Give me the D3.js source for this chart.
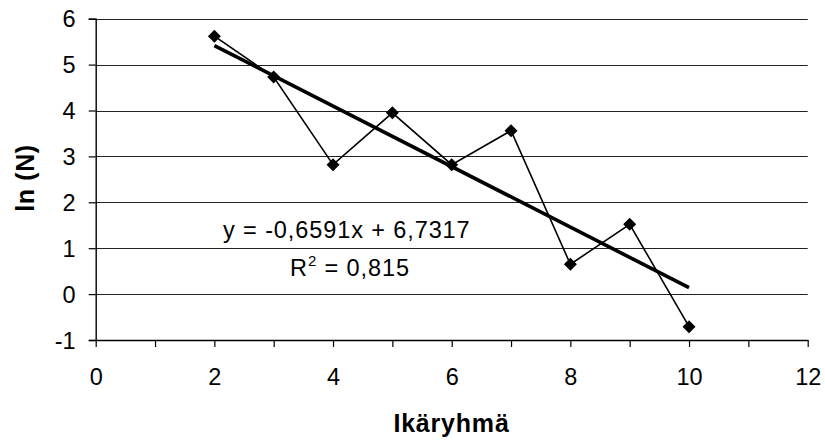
<!DOCTYPE html>
<html>
<head>
<meta charset="utf-8">
<script src="https://cdn.jsdelivr.net/npm/d3@7"></script>
<style>
  html, body { margin: 0; padding: 0; background: #fff; }
  svg { display: block; }
  text { font-family: "Liberation Sans", Arial, sans-serif; fill: #000; }
</style>
</head>
<body>
<svg id="chart" width="825" height="441"></svg>
<script>
// ---- data ----
const ageGroups = [2, 3, 4, 5, 6, 7, 8, 9, 10];
const lnN = [5.62, 4.73, 2.82, 3.95, 2.82, 3.56, 0.65, 1.52, -0.71];
const trendSlope = -0.6591;
const trendIntercept = 6.7317;
const trendRange = [2, 10];
const xTickValues = [0, 2, 4, 6, 8, 10, 12];
const xMinorTicks = [0, 1, 2, 3, 4, 5, 6, 7, 8, 9, 10, 11, 12];
const yTickValues = [-1, 0, 1, 2, 3, 4, 5, 6];
const equationText = "y = -0,6591x + 6,7317";
const r2Text = "0,815";
const xTitle = "Ikäryhmä";
const yTitle = "ln (N)";

// ---- layout ----
(function () {
const svg = d3.select("#chart");
const pLeft = 95.7, pRight = 807.7, pTop = 18.7, pBottom = 340;
const x = d3.scaleLinear().domain([0, 12]).range([pLeft, pRight]);
const y = d3.scaleLinear().domain([-1, 6]).range([pBottom, pTop]);

// gridlines
svg.append("g").selectAll("line").data(yTickValues).join("line")
  .attr("x1", pLeft).attr("x2", pRight)
  .attr("y1", d => Math.round(y(d)) + 0.5).attr("y2", d => Math.round(y(d)) + 0.5)
  .attr("stroke", "#222").attr("stroke-width", 1.2);

// y axis
const yAxis = d3.axisLeft(y).tickValues(yTickValues).tickSize(7).tickFormat(d => d);
const gy = svg.append("g").attr("transform", `translate(${pLeft},0)`).call(yAxis);
gy.select(".domain").attr("stroke", "#000").attr("stroke-width", 1.4);
gy.selectAll(".tick line").attr("stroke", "#000").attr("stroke-width", 1.2);
gy.selectAll(".tick text").attr("font-size", 23.5).attr("font-family", "Liberation Sans, Arial, sans-serif")
  .attr("x", -20).attr("dy", "0.35em").attr("fill", "#000");

// x axis minor ticks
const xAxisMinor = d3.axisBottom(x).tickValues(xMinorTicks).tickSize(7).tickFormat("");
const gxm = svg.append("g").attr("transform", `translate(0,${pBottom})`).call(xAxisMinor);
gxm.select(".domain").remove();
gxm.selectAll(".tick line").attr("stroke", "#000").attr("stroke-width", 1.2);

const xAxis = d3.axisBottom(x).tickValues(xTickValues).tickSize(0).tickFormat(d => d);
const gx = svg.append("g").attr("transform", `translate(0,${pBottom})`).call(xAxis);
gx.select(".domain").attr("stroke", "#000").attr("stroke-width", 1.4);
gx.selectAll(".tick text").attr("font-size", 23.5).attr("font-family", "Liberation Sans, Arial, sans-serif")
  .attr("dy", "0").attr("y", 45).attr("fill", "#000");

// trend line
const tx = trendRange;
svg.append("line")
  .attr("x1", x(tx[0])).attr("y1", y(trendSlope * tx[0] + trendIntercept))
  .attr("x2", x(tx[1])).attr("y2", y(trendSlope * tx[1] + trendIntercept))
  .attr("stroke", "#000").attr("stroke-width", 3.6);

// data line
const pts = ageGroups.map((a, i) => [a, lnN[i]]);
svg.append("path").datum(pts)
  .attr("d", d3.line().x(d => x(d[0])).y(d => y(d[1])))
  .attr("fill", "none").attr("stroke", "#000").attr("stroke-width", 1.6);

// markers
const s = 6.5;
svg.append("g").selectAll("path").data(pts).join("path")
  .attr("transform", d => `translate(${x(d[0])},${y(d[1])})`)
  .attr("d", `M0,${-s}L${s},0L0,${s}L${-s},0Z`)
  .attr("fill", "#000");

// equation labels
svg.append("text").attr("x", 223).attr("y", 238)
  .attr("font-size", 23.5).attr("letter-spacing", 0.9).text(equationText);
const r2 = svg.append("text").attr("x", 290).attr("y", 276).attr("font-size", 23.5)
  .attr("letter-spacing", 0.9);
r2.append("tspan").text("R");
r2.append("tspan").attr("font-size", 15).attr("dy", -10).text("2");
r2.append("tspan").attr("dy", 10).text(" = " + r2Text);

// axis titles
svg.append("text").attr("x", 451.5).attr("y", 432).attr("text-anchor", "middle")
  .attr("font-size", 25).attr("font-weight", "bold").attr("letter-spacing", 0.8).text(xTitle);
svg.append("text").attr("transform", "translate(34,178) rotate(-90)").attr("text-anchor", "middle")
  .attr("font-size", 25).attr("font-weight", "bold").attr("letter-spacing", 0.6).text(yTitle);
})();
</script>
</body>
</html>
